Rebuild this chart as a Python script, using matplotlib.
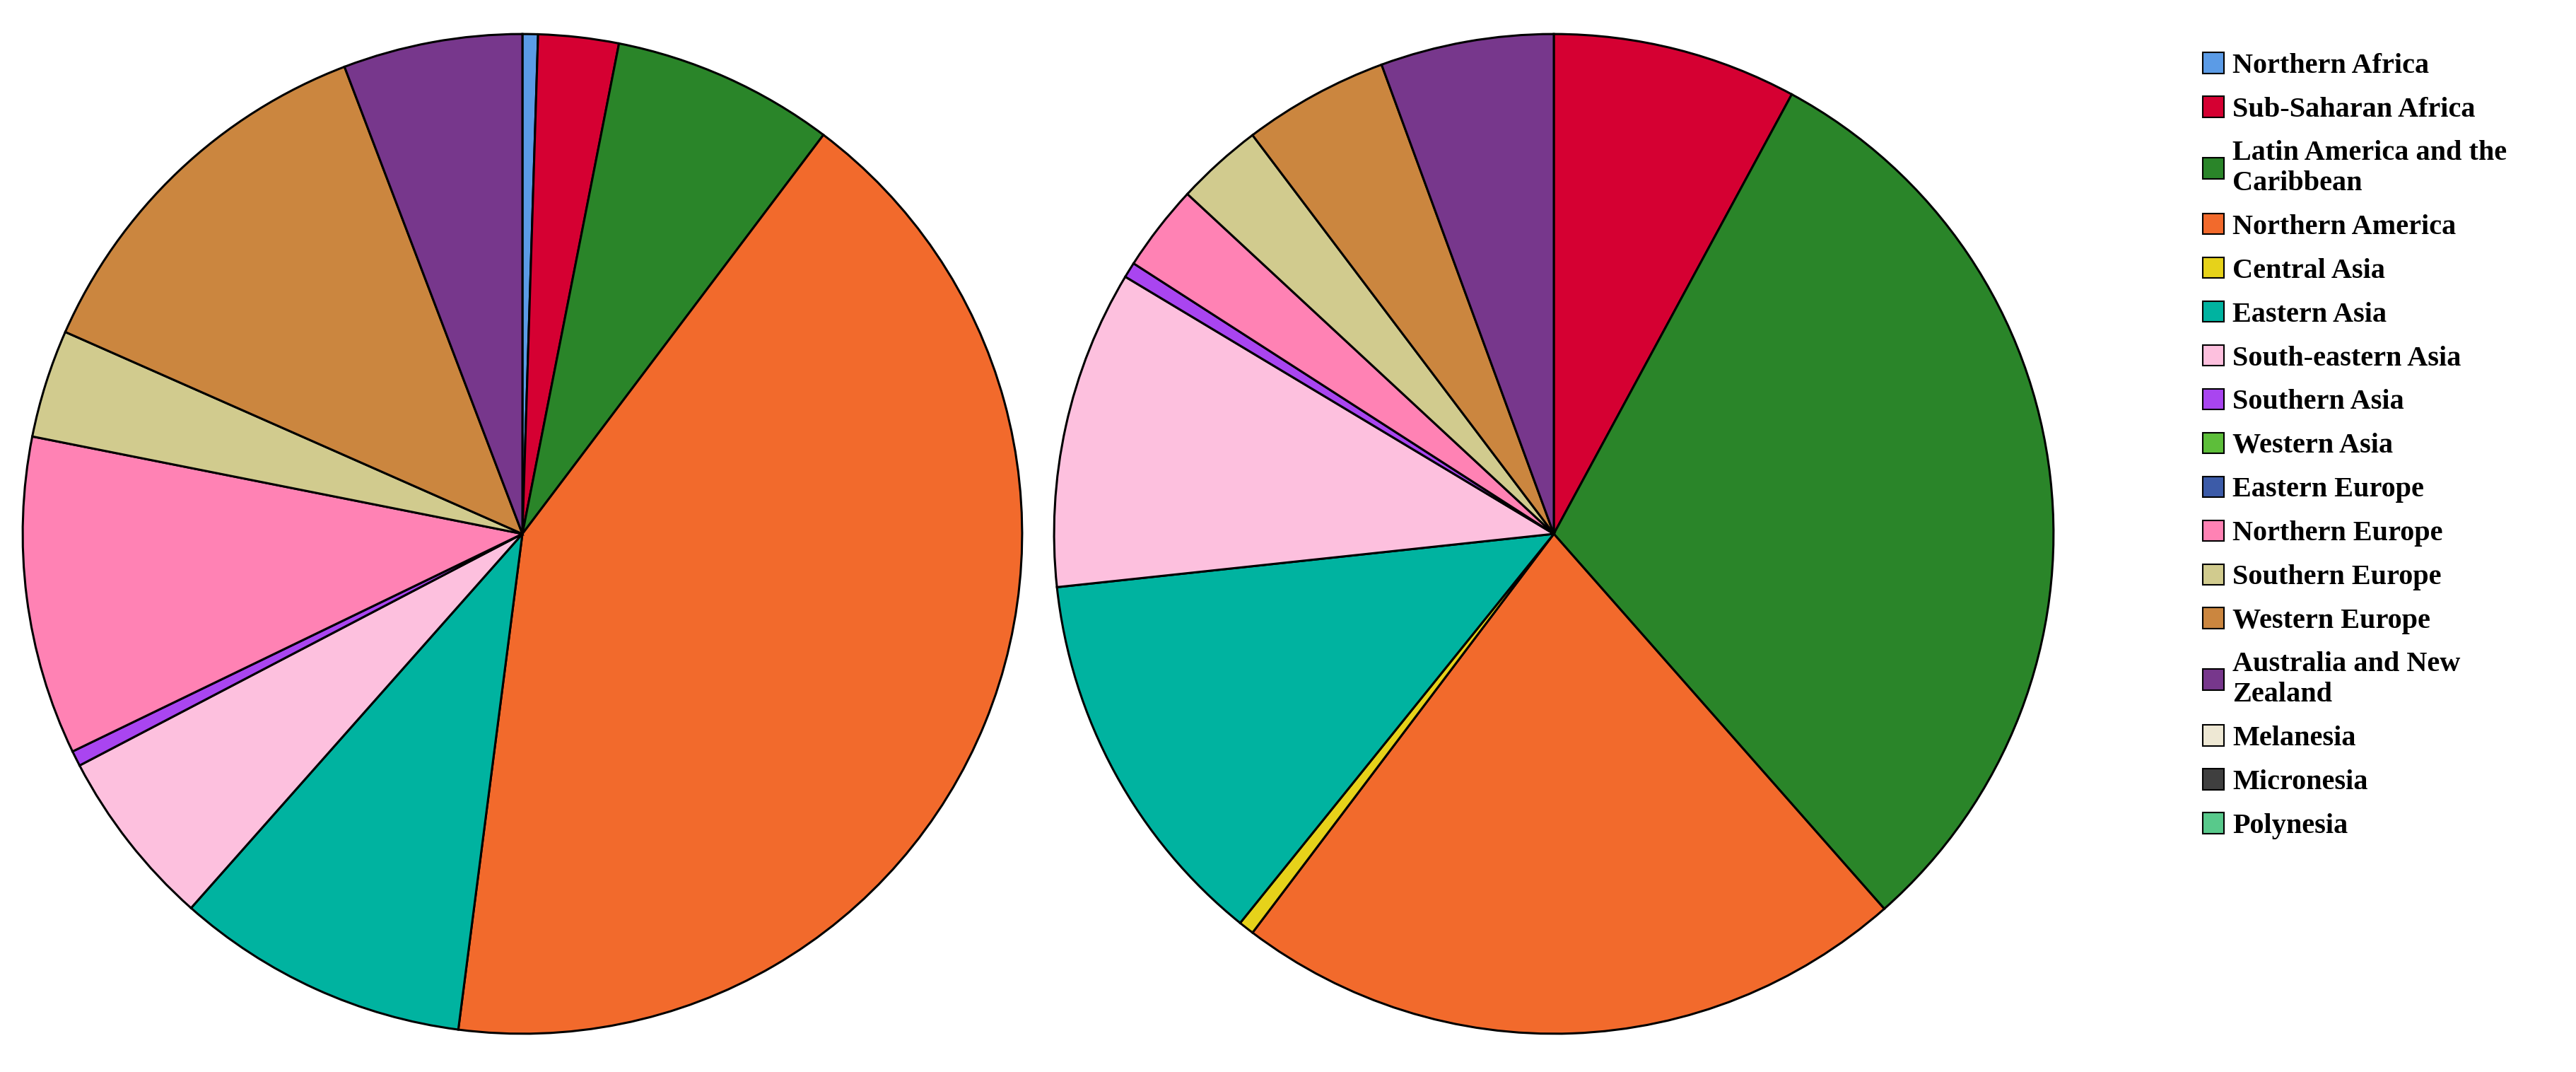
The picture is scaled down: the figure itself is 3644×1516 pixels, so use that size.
import matplotlib
matplotlib.use("Agg")
import matplotlib.pyplot as plt
from matplotlib.patches import Patch

regions = ["Northern Africa", "Sub-Saharan Africa", "Latin America and the\nCaribbean",
           "Northern America", "Central Asia", "Eastern Asia", "South-eastern Asia",
           "Southern Asia", "Western Asia", "Eastern Europe", "Northern Europe",
           "Southern Europe", "Western Europe", "Australia and New\nZealand",
           "Melanesia", "Micronesia", "Polynesia"]
colors = ["#5B9BE6", "#D50032", "#2A8529", "#F26A2C", "#E6D21A", "#00B3A0", "#FDC0DE",
          "#A945F0", "#5DBE3A", "#3C5BA8", "#FF82B4", "#D1CB8E", "#CB863F", "#77378C",
          "#EEE8D4", "#3F3F3F", "#58C98B"]
left_values = [0.5, 2.6, 7.2, 41.8, 0, 9.5, 5.8, 0.5, 0, 0, 10.3, 3.5, 12.6, 5.8, 0, 0, 0]
right_values = [0, 7.9, 30.6, 21.8, 0.5, 12.5, 10.3, 0.5, 0, 0, 2.8, 2.8, 4.7, 5.6, 0, 0, 0]

fig = plt.figure(figsize=(36.44, 15.16), dpi=100)
W, H = 3644, 1516
r = 709
for cx, vals in [(739, left_values), (2198, right_values)]:
    ax = fig.add_axes([(cx - r) / W, (H - 755 - r) / H, 2 * r / W, 2 * r / H])
    v = [x for x in vals if x > 0]
    c = [col for x, col in zip(vals, colors) if x > 0]
    ax.pie(v, colors=c, startangle=90, counterclock=False,
           wedgeprops=dict(edgecolor="black", linewidth=2.2))
    ax.set_xlim(-1.003, 1.003)
    ax.set_ylim(-1.003, 1.003)
    ax.set_aspect("equal")

handles = [Patch(facecolor=col, edgecolor="black", linewidth=1.5) for col in colors]
fig.legend(handles, regions, loc="upper left", bbox_to_anchor=(3100 / W, 1 - 58 / H),
           frameon=False, prop=dict(family="Liberation Serif", weight="bold", size=29),
           handlelength=0.75, handleheight=0.75, handletextpad=0.3, labelspacing=0.6,
           borderaxespad=0)
fig.savefig("out.png", dpi=100)
